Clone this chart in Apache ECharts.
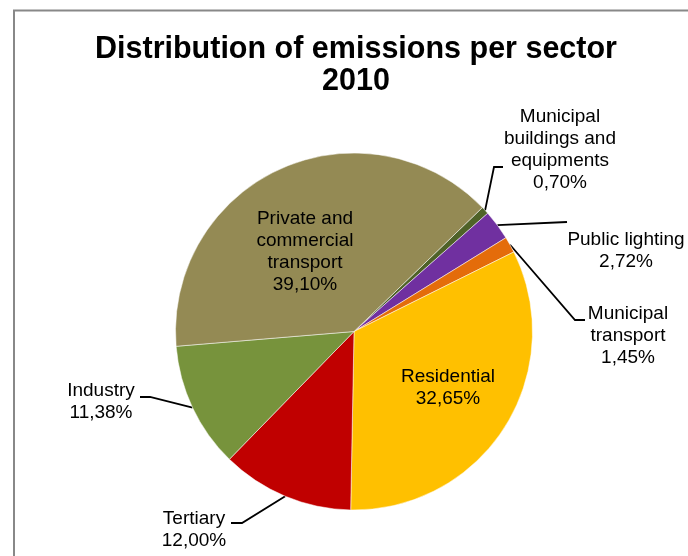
<!DOCTYPE html>
<html>
<head>
<meta charset="utf-8">
<script src="https://cdn.jsdelivr.net/npm/echarts@6/dist/echarts.min.js"></script>
<style>
html,body{margin:0;padding:0;background:#fff;}
#chart{width:688px;height:556px;}
</style>
</head>
<body>
<div id="chart"></div>
<script>
// Data
const categories = [
  'Municipal\nbuildings and\nequipments',
  'Public lighting',
  'Municipal\ntransport',
  'Residential',
  'Tertiary',
  'Industry',
  'Private and\ncommercial\ntransport'
];
const values = [0.70, 2.72, 1.45, 32.65, 12.00, 11.38, 39.10];
const titleText = 'Distribution of emissions per sector\n2010';

// Styles / layout
const colors = ['#4F6228', '#7030A0', '#E46C0A', '#FFC000', '#C00000', '#77933C', '#948A54'];
const insideLabels = [3, 6];
const labelPlacement = {
  0: {x: 560, y: 150, line: [[494, 167], [503, 167]]},
  1: {x: 626, y: 251, line: [[567, 222]]},
  2: {x: 628, y: 336, line: [[575, 320], [585, 320]]},
  3: {x: 448, y: 388},
  4: {x: 194, y: 530, line: [[242, 523], [231, 523]]},
  5: {x: 101, y: 402, line: [[150, 397], [140, 397]]},
  6: {x: 305, y: 252}
};
const FONT = "'Liberation Sans', Arial, sans-serif";

const chart = echarts.init(document.getElementById('chart'), null, {renderer: 'canvas'});

const data = categories.map((name, i) => ({
  name: name,
  value: values[i],
  itemStyle: {color: colors[i]},
  labelLine: {show: insideLabels.indexOf(i) < 0}
}));

chart.setOption({
  animation: false,
  backgroundColor: '#ffffff',
  graphic: [{
    type: 'rect',
    shape: {x: 14, y: 10.5, width: 700, height: 600},
    style: {fill: 'none', stroke: '#888888', lineWidth: 2},
    silent: true
  }],
  title: {
    text: titleText,
    left: 351,
    top: 29,
    textAlign: 'center',
    textStyle: {
      fontFamily: FONT,
      fontSize: 30.5,
      fontWeight: 'bold',
      lineHeight: 32,
      color: '#000'
    }
  },
  series: [{
    type: 'pie',
    center: [354, 331.5],
    radius: 178.5,
    startAngle: 44,
    clockwise: true,
    avoidLabelOverlap: false,
    silent: true,
    itemStyle: {borderColor: '#ffffff', borderWidth: 0.5},
    label: {
      show: true,
      position: 'outside',
      fontFamily: FONT,
      fontSize: 19,
      lineHeight: 22,
      color: '#000',
      align: 'center',
      formatter: p => p.name + '\n' + p.value.toFixed(2).replace('.', ',') + '%'
    },
    labelLine: {
      show: true,
      lineStyle: {color: '#000', width: 1.8}
    },
    labelLayout: function (params) {
      const pl = labelPlacement[params.dataIndex];
      const res = {x: pl.x, y: pl.y, align: 'center', verticalAlign: 'middle'};
      if (pl.line && params.labelLinePoints) {
        res.labelLinePoints = [params.labelLinePoints[0]].concat(pl.line);
      }
      return res;
    },
    data: data
  }]
});
</script>
</body>
</html>
